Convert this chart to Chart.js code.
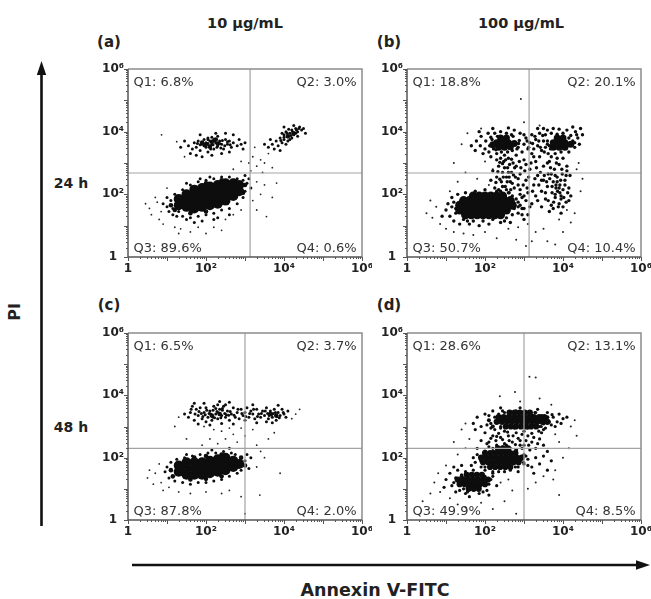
<!DOCTYPE html>
<html>
<head>
<meta charset="utf-8">
<script src="https://cdn.jsdelivr.net/npm/chart.js@4.4.1/dist/chart.umd.min.js"></script>
<style>
  body { margin: 0; background: #fff; }
  #page { position: relative; width: 651px; height: 599px; overflow: hidden; font-family: "DejaVu Sans", sans-serif; color: #222; }
  canvas { position: absolute; }
  .t { position: absolute; transform: translate(-50%, -50%); font-weight: bold; line-height: 1; white-space: nowrap; }
  svg { position: absolute; left: 0; top: 0; }
</style>
</head>
<body>
<div id="page">
  <svg width="651" height="599">
    <line x1="41.5" y1="526" x2="41.5" y2="70" stroke="#111" stroke-width="2.6"/>
    <polygon points="41.5,61 36.8,75 46.2,75" fill="#111"/>
    <line x1="132" y1="565" x2="640" y2="565" stroke="#111" stroke-width="2.6"/>
    <polygon points="650,565 636,560.3 636,569.7" fill="#111"/>
  </svg>
  <div class="t" style="left:245px;top:23px;font-size:14.5px">10 µg/mL</div>
  <div class="t" style="left:521px;top:23px;font-size:14.5px">100 µg/mL</div>
  <div class="t" style="left:109px;top:42px;font-size:15px">(a)</div>
  <div class="t" style="left:389px;top:42px;font-size:15px">(b)</div>
  <div class="t" style="left:109px;top:305px;font-size:15px">(c)</div>
  <div class="t" style="left:389px;top:305px;font-size:15px">(d)</div>
  <div class="t" style="left:71px;top:183px;font-size:14px">24 h</div>
  <div class="t" style="left:71px;top:427px;font-size:14px">48 h</div>
  <div class="t" style="left:15px;top:312px;font-size:16px;transform:translate(-50%,-50%) rotate(-90deg)">PI</div>
  <div class="t" style="left:375px;top:591px;font-size:17.5px">Annexin V-FITC</div>
</div>
<script>
// Axis ticks (both axes are log, 1 .. 10^6)
const decadeTicks = [1, 1e2, 1e4, 1e6];
const tickText = ['1', '10²', '10⁴', '10⁶'];

// Quadrant gates per panel (a, b, c, d)
const gateX = [1350, 1350, 1000, 1000];
const gateY = [480, 480, 200, 200];

// Quadrant percentages per panel
const q1 = [6.8, 18.8, 6.5, 28.6];
const q2 = [3.0, 20.1, 3.7, 13.1];
const q3 = [89.6, 50.7, 87.8, 49.9];
const q4 = [0.6, 10.4, 2.0, 8.5];

// Events, as [log10 Annexin V-FITC, log10 PI]
// (a) 10 µg/mL, 24 h
const aCore = [[1.3,1.65],[1.3,1.85],[1.5,1.6],[1.5,1.8],[1.5,2.0],[1.7,1.55],[1.7,1.75],[1.7,1.95],[1.7,2.15],[1.9,1.6],[1.9,1.8],[1.9,2.0],[1.9,2.2],[2.1,1.65],[2.1,1.85],[2.1,2.05],[2.1,2.25],[2.3,1.7],[2.3,1.9],[2.3,2.1],[2.3,2.3],[2.5,1.8],[2.5,2.0],[2.5,2.2],[2.5,2.35],[2.7,1.95],[2.7,2.15],[2.7,2.35],[2.85,2.1],[2.85,2.3]];
const aMid = [[2.0,3.6],[2.15,3.68],[2.3,3.62],[2.1,3.52],[2.25,3.75],[1.9,3.65],[4.1,3.85],[4.25,3.95],[1.1,1.65],[1.2,1.5],[3.0,2.3],[2.95,2.05],[1.6,1.4],[2.0,1.45],[2.4,2.45],[2.0,2.35]];
const aCloud = [[1.0,1.6],[1.1,1.8],[1.05,1.45],[1.15,1.35],[1.2,2.0],[0.9,1.7],[1.25,1.3],[1.0,1.9],[1.4,1.3],[1.6,1.25],[1.8,1.3],[2.0,1.35],[2.2,1.4],[2.4,1.5],[2.6,1.55],[2.8,1.7],[1.5,1.2],[1.9,1.15],[2.3,1.25],[1.7,1.1],[1.4,2.15],[1.6,2.3],[1.8,2.4],[2.0,2.45],[2.2,2.5],[2.4,2.55],[2.6,2.55],[2.8,2.5],[1.5,2.35],[2.1,2.55],[3.0,2.1],[3.05,2.35],[3.1,2.5],[2.95,1.9],[3.15,2.2],[3.0,2.6],[1.15,1.55],[2.95,2.45],[2.6,1.35],[1.3,1.45],[2.2,1.2],[1.85,2.5],
  [1.55,3.55],[1.65,3.45],[1.7,3.65],[1.75,3.5],[1.8,3.7],[1.85,3.4],[1.9,3.6],[1.95,3.75],[2.0,3.5],[2.0,3.65],[2.05,3.8],[2.1,3.55],[2.1,3.7],[2.15,3.6],[2.2,3.45],[2.2,3.75],[2.25,3.65],[2.3,3.55],[2.3,3.85],[2.35,3.7],[2.4,3.6],[2.45,3.45],[2.5,3.75],[2.55,3.6],[2.6,3.7],[2.65,3.5],[2.7,3.65],[2.8,3.55],[2.85,3.75],[2.9,3.6],[3.0,3.65],[1.6,3.3],[1.75,3.25],[2.05,3.35],[2.4,3.3],[2.6,3.35],[1.45,3.7],[1.85,3.9],[2.25,3.95],[2.7,3.9],[1.9,3.2],[2.15,3.25],[1.35,3.5],[2.95,3.45],[2.5,3.95],
  [1.95,3.55],[2.05,3.62],[2.12,3.45],[2.18,3.58],[2.22,3.7],[2.28,3.5],[2.35,3.62],[2.42,3.72],[2.48,3.55],[2.05,3.75],[1.85,3.58],[2.15,3.82],[2.38,3.48],[2.55,3.68],[1.78,3.62],[2.62,3.58],
  [3.6,3.5],[3.7,3.6],[3.75,3.45],[3.8,3.7],[3.85,3.55],[3.9,3.8],[3.95,3.65],[4.0,3.9],[4.0,3.75],[4.05,4.0],[4.1,3.85],[4.1,3.7],[4.15,3.95],[4.2,4.05],[4.2,3.8],[4.25,3.9],[4.3,4.1],[4.3,3.95],[4.35,4.0],[4.4,4.15],[4.45,4.05],[4.5,4.1],[3.65,3.75],[3.9,3.4],[4.0,4.15],[4.25,4.2],[3.95,3.95],[4.05,3.6],[3.5,3.6],[4.15,3.75],[4.35,3.85],[4.55,3.95],
  [4.0,3.82],[4.08,3.95],[4.18,3.88],[4.22,4.0],[4.32,4.05],[4.12,4.08],[3.92,3.72],[4.38,4.1]];
const aDots = [[0.55,1.55],[0.6,1.35],[0.75,1.75],[0.8,1.2],[0.7,1.9],[0.45,1.7],[0.9,1.05],[1.0,2.2],[1.2,0.95],[1.35,0.9],[1.6,0.8],[2.0,0.75],[2.2,0.95],[1.8,0.95],[2.5,1.2],[2.7,1.35],[2.9,1.5],[3.2,1.8],[3.3,2.4],[3.4,2.0],[3.5,2.3],[3.7,1.9],[3.55,1.29],[3.81,2.36],[3.15,2.75],[3.3,2.9],[3.4,3.1],[3.5,3.0],[3.6,3.3],[3.2,3.2],[3.45,2.7],[3.7,2.85],[3.25,3.5],[3.1,3.0],[0.86,3.9],[1.25,3.68],[1.3,0.75],[2.4,0.85],[0.85,1.45],[3.3,1.5],[2.7,2.8],[2.9,3.05],[1.45,3.2]];

// (b) 100 µg/mL, 24 h
const bCore = [[1.5,1.35],[1.65,1.35],[1.8,1.35],[1.95,1.35],[2.1,1.35],[2.25,1.35],[2.4,1.35],
  [1.35,1.5],[1.5,1.5],[1.65,1.5],[1.8,1.5],[1.95,1.5],[2.1,1.5],[2.25,1.5],[2.4,1.5],[2.55,1.5],
  [1.35,1.65],[1.5,1.65],[1.65,1.65],[1.8,1.65],[1.95,1.65],[2.1,1.65],[2.25,1.65],[2.4,1.65],[2.55,1.65],[2.7,1.65],
  [1.45,1.8],[1.6,1.8],[1.75,1.8],[1.9,1.8],[2.05,1.8],[2.2,1.8],[2.35,1.8],[2.5,1.8],[2.65,1.8],
  [1.7,1.95],[1.85,1.95],[2.0,1.95],[2.15,1.95],[2.3,1.95],[2.45,1.95]];
const bMid = [[2.35,3.5],[2.5,3.5],[2.65,3.52],[2.3,3.65],[2.45,3.65],[2.6,3.65],[2.75,3.62],[2.4,3.8],[2.55,3.8],[2.2,3.58],
  [3.75,3.5],[3.9,3.5],[4.05,3.5],[3.75,3.65],[3.9,3.65],[4.05,3.65],[4.2,3.6],[3.85,3.8],[4.0,3.8]];
const bCloud = [[1.65,3.55],[1.75,3.4],[1.78,3.7],[1.88,3.55],[1.9,3.85],[1.95,3.3],[2.0,3.45],[2.02,3.7],[2.08,3.95],[2.1,3.35],[2.12,3.55],[2.15,3.82],[2.22,3.45],[2.25,3.95],[2.3,3.3],[2.32,3.85],[2.4,4.0],[2.42,3.35],[2.55,3.95],[2.58,3.35],[2.7,3.4],[2.72,3.85],[2.75,4.05],[2.85,3.5],[2.88,3.72],[2.9,3.95],[2.95,3.35],[3.0,3.6],[3.05,3.8],[3.1,3.45],[2.2,4.1],[1.85,4.0],[2.6,4.12],[2.8,3.25],[2.5,3.25],[2.15,3.2],
  [3.15,3.65],[3.2,3.9],[3.25,3.45],[3.3,3.75],[3.35,3.55],[3.4,3.95],[3.45,3.4],[3.5,3.7],[3.55,3.5],[3.55,3.9],[3.6,4.05],[3.62,3.3],[3.68,3.45],[3.7,3.95],[3.75,4.1],[3.8,3.3],[3.85,3.92],[3.9,4.08],[3.95,3.35],[4.0,3.95],[4.1,4.05],[4.15,3.35],[4.2,3.88],[4.25,3.7],[4.3,3.5],[4.32,4.0],[4.38,3.8],[4.42,3.6],[4.45,4.1],[4.5,3.9],[4.25,4.15],[3.5,4.1],[3.2,3.3],[3.35,4.1],
  [3.0,3.9],[3.08,3.7],[3.12,3.5],[3.22,3.62],[3.28,3.85],[3.38,3.7],[3.42,3.5],[3.48,3.88],[3.52,3.35],[3.6,3.6],
  [2.18,3.75],[2.28,3.42],[2.82,3.45],[2.86,3.62],[2.68,3.9],[3.6,3.7],[3.65,3.55],[4.15,3.8],[4.3,3.65],[4.35,3.9],
  [2.25,2.2],[2.3,2.55],[2.35,2.9],[2.4,2.1],[2.42,2.4],[2.45,2.7],[2.48,3.05],[2.52,2.25],[2.55,2.55],[2.58,2.85],[2.6,3.15],[2.62,2.05],[2.65,2.4],[2.68,2.7],[2.72,3.0],[2.75,2.2],[2.78,2.55],[2.2,2.75],[2.3,3.1],[2.5,2.0],[2.8,2.9],[2.4,3.15],[2.15,2.45],
  [2.28,2.38],[2.33,2.72],[2.38,3.02],[2.45,2.25],[2.47,2.55],[2.5,2.85],[2.53,3.1],[2.57,2.4],[2.6,2.7],[2.63,2.95],[2.66,2.15],[2.7,2.35],[2.73,2.62],[2.76,2.85],[2.35,2.15],[2.45,2.98],[2.62,2.55],[2.55,2.15],[2.38,2.48],[2.68,3.12],
  [2.85,2.3],[2.9,2.65],[2.95,1.9],[3.0,3.1],[3.05,2.45],[3.1,2.05],[3.15,2.8],[3.2,1.7],[3.25,2.3],[3.3,3.05],[3.35,2.6],[2.95,1.55],[3.1,1.35],[3.3,1.95],[2.85,1.75],
  [2.85,2.5],[2.92,2.85],[2.98,2.3],[3.02,2.75],[3.08,2.2],[3.12,2.55],[3.18,3.0],[3.22,2.1],[3.28,2.5],[3.32,2.85],[3.38,2.3],[3.42,2.7],[2.88,3.05],[3.05,2.95],[3.25,3.2],[3.15,1.6],[3.35,1.8],[3.0,1.95],[2.9,2.15],[3.45,2.45],
  [3.45,2.1],[3.5,2.45],[3.5,2.9],[3.55,1.85],[3.6,2.25],[3.62,2.65],[3.65,3.05],[3.7,1.65],[3.72,2.05],[3.75,2.4],[3.78,2.8],[3.8,1.9],[3.82,2.2],[3.85,2.55],[3.88,1.6],[3.9,2.95],[3.92,2.3],[3.95,1.95],[3.98,2.65],[4.0,2.15],[4.05,2.45],[4.08,1.75],[4.1,2.9],[4.15,2.2],[4.18,2.6],[3.65,1.45],[3.95,1.4],[4.2,1.95],[3.45,1.6],[3.4,3.2],[3.7,3.2],[4.0,3.15],
  [3.52,2.6],[3.55,2.05],[3.58,2.4],[3.62,1.8],[3.66,2.5],[3.68,2.85],[3.72,2.25],[3.76,1.75],[3.8,2.6],[3.83,3.0],[3.86,2.1],[3.9,1.7],[3.94,2.45],[3.97,2.8],[4.02,1.9],[4.05,2.3],[4.08,2.6],[4.12,2.05],[4.15,1.8],[3.7,2.65],[3.6,3.0],[3.85,3.15],[4.1,2.75],[3.75,1.55],[4.0,1.6],
  [3.8,2.0],[3.9,2.2],[3.85,2.4],[3.95,1.85],[3.82,2.3],[3.92,2.05],
  [1.0,1.5],[1.05,1.7],[1.1,1.3],[1.15,1.9],[1.2,1.15],[1.25,1.55],[1.3,2.0],[1.35,1.05],[1.45,1.2],[1.5,2.05],[1.6,1.05],[1.7,1.15],[1.75,2.1],[1.85,1.0],[1.95,1.15],[2.0,2.15],[2.1,1.05],[2.2,1.2],[2.3,2.1],[2.4,1.1],[2.55,1.25],[2.6,2.05],[2.7,1.35],[2.75,1.55],[2.8,1.85],[2.85,1.4],[2.9,1.65],[3.0,1.2],[3.05,1.8],[2.65,1.1],[0.9,1.3],[1.2,1.75],[2.9,2.0],
  [1.25,1.4],[1.15,1.6],[2.7,1.95],[2.85,1.6],[2.95,1.35],[3.0,1.55],[2.5,1.15],[1.55,1.15]];
const bDots = [[0.5,1.4],[0.65,1.25],[0.75,1.6],[0.6,1.8],[0.85,1.05],[1.0,0.9],[1.2,0.8],[1.45,0.75],[1.7,0.7],[2.0,0.8],[2.3,0.6],[2.6,0.9],[2.8,0.55],[3.05,0.35],[3.2,0.5],[3.5,0.9],[3.6,0.5],[3.8,0.4],[4.0,0.8],[4.2,1.1],[4.3,1.4],[4.45,2.1],[4.5,2.5],[4.4,3.0],[4.35,2.8],[1.3,2.4],[1.5,2.7],[1.2,3.0],[1.4,3.6],[1.55,3.95],[1.9,4.1],[2.92,5.04],[3.0,4.3],[3.4,4.2],[2.1,2.3],[1.8,2.5],[2.2,2.8],[2.0,3.05],[3.3,0.8],[3.9,1.2],[4.1,1.5],[2.85,0.95],[3.1,1.05],[1.1,2.1]];

// (c) 10 µg/mL, 48 h
const cCore = [[1.3,1.55],[1.3,1.75],[1.5,1.45],[1.5,1.65],[1.5,1.85],[1.7,1.45],[1.7,1.65],[1.7,1.85],[1.9,1.45],[1.9,1.65],[1.9,1.85],[2.1,1.5],[2.1,1.7],[2.1,1.9],[2.3,1.55],[2.3,1.75],[2.3,1.95],[2.5,1.6],[2.5,1.8],[2.5,2.0],[2.7,1.7],[2.7,1.9],[2.85,1.8]];
const cMid = [[1.1,1.6],[1.15,1.4],[2.9,2.0],[3.0,1.75],[2.0,2.05],[1.7,2.0],[2.4,2.1],[1.6,1.3],[2.0,1.32],[2.4,1.4],[2.15,3.35],[2.35,3.4],[3.65,3.4],[3.8,3.35]];
const cCloud = [[1.55,3.3],[1.6,3.45],[1.7,3.2],[1.75,3.55],[1.8,3.35],[1.85,3.6],[1.9,3.25],[1.95,3.45],[2.0,3.6],[2.05,3.3],[2.1,3.5],[2.15,3.2],[2.2,3.65],[2.25,3.4],[2.3,3.25],[2.35,3.55],[2.4,3.35],[2.45,3.65],[2.5,3.3],[2.55,3.5],[2.6,3.2],[2.65,3.4],[2.7,3.6],[2.75,3.3],[2.8,3.45],[2.85,3.25],[2.9,3.55],[2.95,3.35],[3.0,3.45],[3.05,3.6],[3.1,3.3],[3.15,3.5],[3.2,3.4],[3.25,3.25],[3.3,3.55],[3.35,3.4],[3.4,3.3],[3.45,3.5],[3.5,3.35],[3.55,3.6],[3.6,3.25],[3.65,3.5],[3.7,3.3],[3.75,3.55],[3.8,3.2],[3.85,3.45],[3.9,3.35],[3.95,3.55],[4.0,3.4],[4.05,3.3],[4.1,3.5],[1.65,3.65],[2.0,3.15],[2.5,3.7],[3.0,3.2],[3.55,3.15],[2.3,3.7],[1.45,3.4],
  [1.98,3.38],[2.08,3.42],[2.18,3.3],[2.28,3.48],[2.38,3.28],[2.48,3.42],[2.58,3.36],[2.18,3.52],[1.88,3.42],[2.42,3.52],[3.58,3.42],[3.72,3.42],[3.82,3.32],[3.62,3.35],
  [1.72,3.4],[1.82,3.48],[1.92,3.32],[2.02,3.52],[2.12,3.4],[2.22,3.28],[2.32,3.44],[2.42,3.58],[2.52,3.38],[2.62,3.48],[2.72,3.36],[2.82,3.55],[2.92,3.42],[3.02,3.32],[3.12,3.42],[3.22,3.55],[3.32,3.32],[3.42,3.42],[3.52,3.5],[3.68,3.38],[3.78,3.45],[3.88,3.28],[3.98,3.45],[1.62,3.55],[2.25,3.58],
  [1.8,3.08],[2.1,3.05],[2.4,3.1],[2.7,3.08],[3.3,3.12],[3.7,3.12],[1.95,3.75],[2.6,3.78],[3.2,3.7],[3.85,3.68],[2.35,3.8],[1.7,3.75],
  [0.95,1.55],[1.0,1.7],[1.05,1.35],[1.1,1.85],[1.2,1.25],[1.25,1.95],[1.4,1.2],[1.45,2.0],[1.6,1.15],[1.65,2.05],[1.8,1.2],[1.85,2.1],[2.0,1.2],[2.05,2.15],[2.2,1.25],[2.25,2.15],[2.4,1.3],[2.45,2.2],[2.6,1.4],[2.65,2.15],[2.8,1.5],[2.9,1.6],[3.0,1.9],[3.05,2.1],[3.1,1.65],[2.75,2.1],[1.5,2.1],[2.15,2.25],[2.6,2.3],[3.15,2.0]];
const cDots = [[0.5,1.35],[0.55,1.6],[0.65,1.15],[0.7,1.5],[0.8,1.8],[0.85,1.2],[0.9,0.95],[1.05,1.05],[1.3,0.9],[1.6,0.85],[2.0,0.9],[2.4,0.85],[2.6,0.95],[2.9,0.75],[3.0,0.2],[3.38,0.8],[3.9,1.5],[3.3,1.7],[3.5,2.0],[3.4,2.2],[2.3,2.45],[2.5,2.6],[2.7,2.75],[2.4,2.85],[2.6,2.95],[2.8,2.5],[3.0,2.7],[2.2,2.9],[2.9,2.95],[3.2,2.9],[3.6,2.6],[3.3,2.4],[3.75,2.8],[1.3,3.3],[1.2,3.0],[4.3,3.4],[4.4,3.55],[4.2,3.25],[1.9,2.4],[2.1,2.6],[1.95,3.0],[1.5,2.6]];

// (d) 100 µg/mL, 48 h
const dCore = [[2.53,3.0],[2.66,3.0],[2.79,3.0],[2.92,3.0],[3.05,3.0],[3.18,3.0],[3.31,3.0],
  [2.3,3.15],[2.43,3.15],[2.56,3.15],[2.69,3.15],[2.82,3.15],[2.95,3.15],[3.08,3.15],[3.21,3.15],[3.34,3.15],[3.47,3.15],[3.6,3.15],
  [2.35,3.3],[2.48,3.3],[2.61,3.3],[2.74,3.3],[2.87,3.3],[3.0,3.3],[3.13,3.3],[3.26,3.3],[3.39,3.3],[3.52,3.3],
  [2.63,3.45],[2.76,3.45],[2.89,3.45],[3.02,3.45],[3.15,3.45],
  [2.13,1.7],[2.26,1.7],[2.39,1.7],[2.52,1.7],[2.65,1.7],
  [1.95,1.85],[2.08,1.85],[2.21,1.85],[2.34,1.85],[2.47,1.85],[2.6,1.85],[2.73,1.85],[2.86,1.85],
  [1.9,2.0],[2.03,2.0],[2.16,2.0],[2.29,2.0],[2.42,2.0],[2.55,2.0],[2.68,2.0],[2.81,2.0],[2.94,2.0],
  [2.0,2.15],[2.13,2.15],[2.26,2.15],[2.39,2.15],[2.52,2.15],[2.65,2.15],[2.78,2.15],
  [2.33,2.3],[2.46,2.3],[2.59,2.3],
  [1.58,1.0],[1.71,1.0],[1.84,1.0],
  [1.35,1.15],[1.48,1.15],[1.61,1.15],[1.74,1.15],[1.87,1.15],[2.0,1.15],
  [1.3,1.3],[1.43,1.3],[1.56,1.3],[1.69,1.3],[1.82,1.3],[1.95,1.3],[2.08,1.3],
  [1.53,1.45],[1.66,1.45],[1.79,1.45],[1.92,1.45]];
const dMid = [[2.1,3.2],[3.5,3.1],[3.6,3.3],[2.2,3.0],[3.2,3.35],[1.9,1.9],[2.8,2.25],[2.0,2.2],[1.4,1.4],[1.8,1.1],[1.9,1.45],[2.6,1.8],[2.9,1.9]];
const dCloud = [[1.7,3.1],[1.8,3.3],[1.9,3.0],[2.0,3.4],[2.1,3.35],[2.15,2.95],[2.2,3.5],[2.35,3.4],[2.4,2.95],[2.45,3.5],[2.6,3.0],[2.6,3.45],[2.75,2.95],[2.8,3.5],[2.95,3.0],[3.0,3.45],[3.1,2.95],[3.15,3.4],[3.25,3.05],[3.3,3.45],[3.4,3.0],[3.45,3.35],[3.55,3.2],[3.6,3.45],[3.7,3.05],[3.75,3.3],[3.85,3.15],[3.9,3.4],[4.0,3.25],[4.1,3.3],[3.5,2.9],[3.0,2.85],[2.5,2.85],[3.35,3.55],[2.9,3.6],[2.4,3.6],[1.75,2.9],
  [2.15,3.1],[2.25,3.3],[3.65,3.15],[3.72,3.38],[3.8,3.0],[3.95,3.1],[2.05,3.05],[3.55,2.95],[2.4,3.0],[3.44,3.0],[2.5,3.45],[3.28,3.45],
  [2.1,2.5],[2.2,2.7],[2.3,2.4],[2.4,2.65],[2.5,2.45],[2.6,2.7],[2.7,2.5],[2.8,2.8],[2.9,2.55],[3.0,2.4],[3.1,2.7],[3.2,2.5],[3.3,2.3],[3.4,2.6],[3.5,2.4],[3.6,2.2],[2.0,2.8],[2.25,2.9],[2.65,2.3],[3.15,2.25],[1.9,2.55],[3.45,2.8],
  [2.05,2.45],[2.15,2.62],[2.28,2.55],[2.35,2.78],[2.45,2.58],[2.55,2.4],[2.58,2.82],[2.72,2.7],[2.78,2.42],[2.85,2.62],[2.95,2.75],[3.05,2.55],[3.12,2.4],[3.25,2.65],[3.35,2.45],[3.38,2.85],[2.3,2.68],[2.62,2.55],[2.9,2.4],[3.2,2.78],
  [1.7,2.0],[1.8,2.3],[1.9,1.7],[2.0,1.6],[2.1,2.35],[2.2,1.75],[2.4,1.7],[2.45,2.35],[2.6,2.15],[2.65,1.6],[2.8,2.0],[2.85,1.7],[3.0,2.1],[3.0,1.8],[3.1,1.95],[3.2,1.7],[3.3,2.0],[3.4,1.8],[3.5,2.05],[3.6,1.6],[3.7,1.9],[2.2,2.2],[2.35,1.55],[2.95,2.3],[1.65,1.75],[3.25,1.5],
  [1.75,1.85],[1.8,2.1],[3.05,2.05],[3.1,1.75],[2.85,1.55],[2.5,1.55],[2.2,1.55],[2.0,1.7],[2.78,1.7],[2.99,1.85],[2.2,2.3],[2.59,2.3],
  [1.0,1.3],[1.1,1.5],[1.15,1.1],[1.25,1.35],[1.3,1.6],[1.35,0.95],[1.45,1.15],[1.5,1.55],[1.55,0.9],[1.65,1.1],[1.7,1.6],[1.8,1.35],[1.85,0.85],[1.95,1.2],[2.0,1.4],[2.05,0.95],[2.15,1.3],[2.2,1.5],[2.3,1.1],[1.2,1.7],[1.4,1.75],[0.95,1.05],[1.6,0.75],[2.1,0.8],
  [1.2,1.2],[1.25,0.9],[2.1,1.15],[2.2,1.4],[1.5,0.85],[1.95,0.9],[1.45,1.0],[1.4,1.45]];
const dDots = [[0.4,0.6],[0.6,0.85],[0.7,1.2],[0.8,1.5],[0.85,0.9],[1.0,1.75],[1.1,0.7],[1.3,0.5],[1.5,0.4],[1.9,0.55],[2.2,0.35],[2.5,0.6],[2.7,0.95],[2.8,0.2],[2.4,1.2],[2.6,1.3],[3.1,1.0],[3.3,1.2],[3.5,1.4],[3.75,1.3],[3.9,0.8],[3.8,1.6],[4.0,2.0],[3.9,2.5],[3.8,2.75],[4.2,3.0],[4.3,3.2],[1.5,2.3],[1.3,2.1],[1.6,2.6],[1.4,2.9],[1.5,3.1],[3.14,4.6],[3.3,4.57],[2.77,4.11],[2.38,3.97],[3.4,3.9],[2.9,3.8],[3.7,3.7],[4.15,2.3],[4.35,2.7],[1.2,2.5]];

const panelPoints = [
  [aCore, aMid, aCloud, aDots],
  [bCore, bMid, bCloud, bDots],
  [cCore, cMid, cCloud, cDots],
  [dCore, dMid, dCloud, dDots]
];

// Marker radius per layer (core, mid, cloud, dots) for each panel
const layerRadius = [[5, 2.3, 1.5, 0.9], [4.5, 3.5, 1.7, 1], [5, 2.3, 1.5, 0.9], [3.1, 2, 1.6, 1]];

// Plot-area placement on the page (left, top, width, height)
const areas = [[128, 69, 234, 188], [407, 69, 234, 188], [128, 333, 234, 187], [407, 333, 234, 187]];
const PAD_TOP = 8, PAD_RIGHT = 10, Y_AXIS_W = 40, X_AXIS_H = 22;

const toPoints = list => list.map(([lx, ly]) => ({ x: 10 ** lx, y: 10 ** ly }));

// Frame, quadrant gates, tick marks and quadrant labels
const framePlugin = {
    id: 'frame',
    afterDatasetsDraw(chart, args, opts) {
        const { ctx, chartArea: a, scales: { x, y } } = chart;
        ctx.save();

        // quadrant lines
        const gx = x.getPixelForValue(opts.gateX);
        const gy = y.getPixelForValue(opts.gateY);
        ctx.strokeStyle = '#a3a3a3';
        ctx.lineWidth = 1.2;
        ctx.beginPath();
        ctx.moveTo(gx, a.top); ctx.lineTo(gx, a.bottom);
        ctx.moveTo(a.left, gy); ctx.lineTo(a.right, gy);
        ctx.stroke();

        // box: light top/right, darker axes
        ctx.lineWidth = 1.5;
        ctx.strokeStyle = '#8c8c8c';
        ctx.beginPath();
        ctx.moveTo(a.left, a.top); ctx.lineTo(a.right, a.top); ctx.lineTo(a.right, a.bottom);
        ctx.stroke();
        ctx.strokeStyle = '#555';
        ctx.beginPath();
        ctx.moveTo(a.left, a.top); ctx.lineTo(a.left, a.bottom); ctx.lineTo(a.right, a.bottom);
        ctx.stroke();

        // log tick marks, outward
        ctx.lineWidth = 1;
        ctx.strokeStyle = '#555';
        ctx.beginPath();
        for (let k = 0; k <= 6; k++) {
            for (let m = 1; m <= 9; m++) {
                const v = m * 10 ** k;
                if (v > 1e6) break;
                const len = m === 1 ? 4 : 2;
                const px = Math.round(x.getPixelForValue(v)) + 0.5;
                const py = Math.round(y.getPixelForValue(v)) + 0.5;
                ctx.moveTo(px, a.bottom); ctx.lineTo(px, a.bottom + len);
                ctx.moveTo(a.left, py); ctx.lineTo(a.left - len, py);
            }
        }
        ctx.stroke();

        // quadrant percentages
        ctx.font = '13px "DejaVu Sans"';
        ctx.fillStyle = '#333';
        ctx.textBaseline = 'alphabetic';
        const topY = a.top + 12.5 + 4.7;
        const botY = a.bottom - 9.5 + 4.7;
        const fmt = (n, v) => 'Q' + n + ': ' + v.toFixed(1) + '%';
        ctx.textAlign = 'left';
        ctx.fillText(fmt(1, opts.q[0]), a.left + 5.5, topY);
        ctx.fillText(fmt(3, opts.q[2]), a.left + 5.5, botY);
        ctx.textAlign = 'right';
        ctx.fillText(fmt(2, opts.q[1]), a.right - 5.5, topY);
        ctx.fillText(fmt(4, opts.q[3]), a.right - 5.5, botY);
        ctx.restore();
    }
};

const tickFont = { family: '"DejaVu Sans"', size: 12, weight: 'bold' };

function makeAxis(pos) {
    const horizontal = pos === 'bottom';
    return {
        type: 'logarithmic',
        position: pos,
        min: 1,
        max: 1e6,
        grid: { display: false, drawTicks: false },
        border: { display: false },
        ticks: {
            font: tickFont,
            color: '#222',
            padding: horizontal ? 5 : 4,
            crossAlign: horizontal ? 'near' : 'center',
            autoSkip: false,
            maxRotation: 0,
            callback: v => {
                const i = decadeTicks.indexOf(v);
                return i >= 0 ? tickText[i] : '';
            }
        },
        afterBuildTicks: scale => {
            scale.ticks = decadeTicks.map(v => ({ value: v }));
        },
        afterFit: scale => {
            if (horizontal) {
                scale.height = X_AXIS_H;
                scale.paddingLeft = 0;
                scale.paddingRight = 0;
            } else {
                scale.width = Y_AXIS_W;
                scale.paddingTop = 0;
                scale.paddingBottom = 0;
            }
        }
    };
}

const page = document.getElementById('page');

areas.forEach(([left, top, w, h], i) => {
    const canvas = document.createElement('canvas');
    canvas.width = w + Y_AXIS_W + PAD_RIGHT;
    canvas.height = h + PAD_TOP + X_AXIS_H;
    canvas.style.left = (left - Y_AXIS_W) + 'px';
    canvas.style.top = (top - PAD_TOP) + 'px';
    page.appendChild(canvas);

    new Chart(canvas, {
        type: 'scatter',
        data: {
            datasets: panelPoints[i].map((pts, j) => ({
                data: toPoints(pts),
                pointRadius: layerRadius[i][j],
                pointBorderWidth: 0,
                pointBackgroundColor: j === 3 ? '#222' : '#0d0d0d'
            }))
        },
        options: {
            responsive: false,
            animation: false,
            events: [],
            layout: { padding: { left: 0, top: PAD_TOP, right: PAD_RIGHT, bottom: 0 } },
            plugins: {
                legend: { display: false },
                tooltip: { enabled: false },
                frame: {
                    gateX: gateX[i],
                    gateY: gateY[i],
                    q: [q1[i], q2[i], q3[i], q4[i]]
                }
            },
            scales: {
                x: makeAxis('bottom'),
                y: makeAxis('left')
            }
        },
        plugins: [framePlugin]
    });
});
</script>
</body>
</html>
